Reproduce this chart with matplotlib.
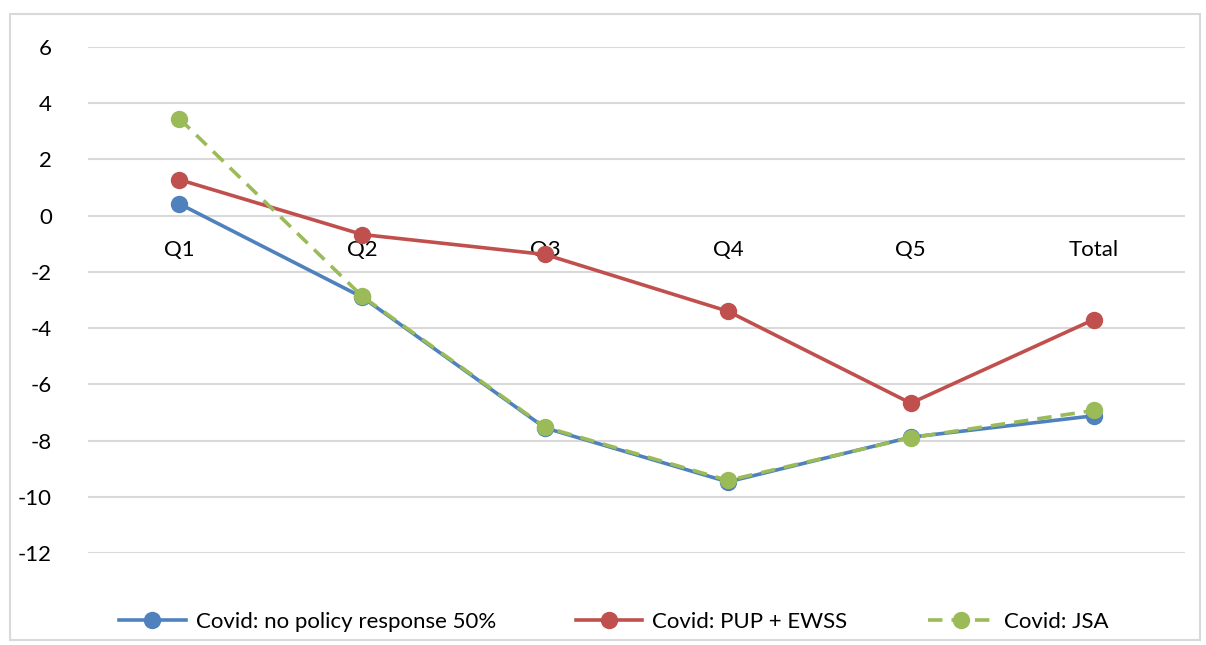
import numpy as np
import matplotlib.pyplot as plt
from matplotlib.patches import Rectangle

plt.rcParams['font.family'] = ['Lato', 'DejaVu Sans']

categories = ["Q1", "Q2", "Q3", "Q4", "Q5", "Total"]
no_policy = [0.42, -2.9, -7.55, -9.47, -7.88, -7.12]
pup_ewss = [1.28, -0.67, -1.38, -3.4, -6.67, -3.7]
jsa = [3.45, -2.87, -7.52, -9.42, -7.9, -6.93]
yticks = [6, 4, 2, 0, -2, -4, -6, -8, -10, -12]

blue = "#4F81BD"
red = "#C0504D"
green = "#9BBB59"

fig = plt.figure(figsize=(12.06, 6.45), dpi=100)
ax = fig.add_axes([88/1206, 1 - 553/645, 1097/1206, 506/645])

# outer chart border
fig.patches.append(Rectangle((10/1206, 5/645), 1190/1206, 626/645, transform=fig.transFigure,
                             fill=False, edgecolor="#D9D9D9", lw=1.5))

x = np.arange(len(categories))
ax.plot(x, no_policy, color=blue, lw=2.6, marker="o", ms=11.5, label="Covid: no policy response 50%", zorder=3)
ax.plot(x, pup_ewss, color=red, lw=2.6, marker="o", ms=11.5, label="Covid: PUP + EWSS", zorder=3)
ax.plot(x, jsa, color=green, lw=2.6, ls=(0, (4, 2.5)), marker="o", ms=11.5, label="Covid: JSA", zorder=4)

ax.set_xlim(-0.5, 5.5)
ax.set_ylim(-12, 6)
ax.set_yticks(yticks)
ax.set_yticklabels([str(t) for t in yticks], fontsize=16)
ax.tick_params(axis="y", length=0, pad=26)
ax.set_xticks([])
ax.grid(axis="y", color="#D9D9D9", lw=1.5)
ax.set_axisbelow(True)
for s in ax.spines.values():
    s.set_visible(False)

# category labels sit just under the zero line
for i, c in enumerate(categories):
    ax.annotate(c, (i, 0), xytext=(0, -34), textcoords="offset pixels",
                ha="center", va="center", fontsize=16, zorder=2)

fig.legend(loc="center", bbox_to_anchor=(0.509, 1 - 622/645), ncol=3, frameon=False,
           fontsize=16, handlelength=3.0, handletextpad=0.45, columnspacing=3.6)

fig.savefig("out.png", dpi=100)
